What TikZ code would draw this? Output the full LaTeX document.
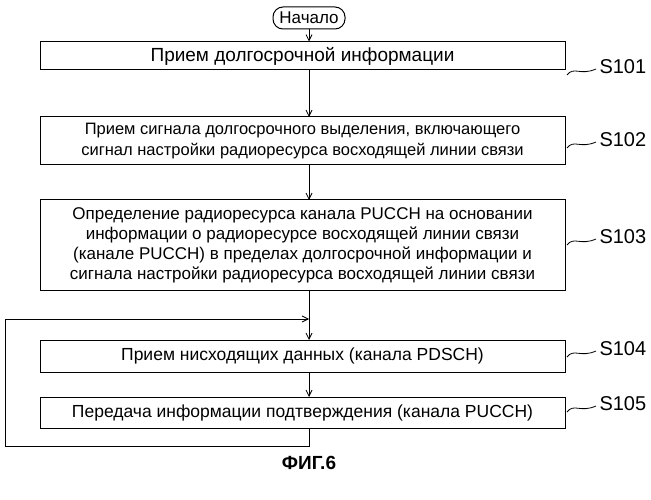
\documentclass[tikz,border=0pt]{standalone}
\usepackage{fontspec}
\setmainfont{Liberation Sans}
\usetikzlibrary{arrows.meta}
\begin{document}
\begin{tikzpicture}[x=1pt,y=-1pt,
  box/.style={draw,line width=1pt,minimum width=525pt,align=center,font=\fontsize{17.5}{21}\selectfont,inner sep=0pt},
  arr/.style={-{Straight Barb[length=6pt,width=6pt]},line width=0.8pt},
  lab/.style={font=\fontsize{20}{22}\selectfont,anchor=west},
  lead/.style={line width=0.8pt}]
\useasboundingbox (0,0) rectangle (651,500);
\node[draw,line width=1pt,rounded corners=10pt,minimum width=72pt,minimum height=22pt,inner sep=0pt,font=\fontsize{17}{18}\selectfont] (st) at (309,18) {Начало};
\node[box,minimum height=28pt,font=\fontsize{19}{21}\selectfont] (b1) at (302.5,56) {Прием долгосрочной информации};
\node[box,minimum height=48pt,font=\fontsize{16.5}{21}\selectfont] (b2) at (302.5,141) {Прием сигнала долгосрочного выделения, включающего\\сигнал настройки радиоресурса восходящей линии связи};
\node[box,minimum height=90pt,font=\fontsize{17}{20}\selectfont] (b3) at (302.5,245) {Определение радиоресурса канала PUCCH на основании\\информации о радиоресурсе восходящей линии связи\\(канале PUCCH) в пределах долгосрочной информации и\\сигнала настройки радиоресурса восходящей линии связи};
\node[box,minimum height=32pt] (b4) at (302.5,356) {Прием нисходящих данных (канала PDSCH)};
\node[box,minimum height=31pt] (b5) at (302.5,412.5) {Передача информации подтверждения (канала PUCCH)};
\coordinate (j) at (309,319);
\coordinate (c1) at (309,446);
\coordinate (c2) at (5,446);
\coordinate (c3) at (5,319);
\draw[arr] (st.south) -- (st.south |- b1.north);
\draw[arr] (309,70) -- (309,117);
\draw[arr] (309,165) -- (309,200);
\draw[arr] (309,290) -- (309,340);
\draw[arr] (309,372) -- (309,397);
\draw[line width=0.8pt] (309,428) -- (c1) -- (c2) -- (c3);
\draw[arr] (c3) -- (j);
\foreach \n/\y/\t in {b1/70/S101,b2/143/S102,b3/240/S103,b4/352/S104,b5/407/S105}{
  \draw[lead] (567,\y+5) .. controls (574,\y-4) and (580,\y+6) .. (596,\y-1);
  \node[lab] (l\n) at (596,\y-3) {\t};
}
\node[font=\bfseries\fontsize{19}{21}\selectfont] (cap) at (309,463) {ФИГ.6};
\end{tikzpicture}
\end{document}
